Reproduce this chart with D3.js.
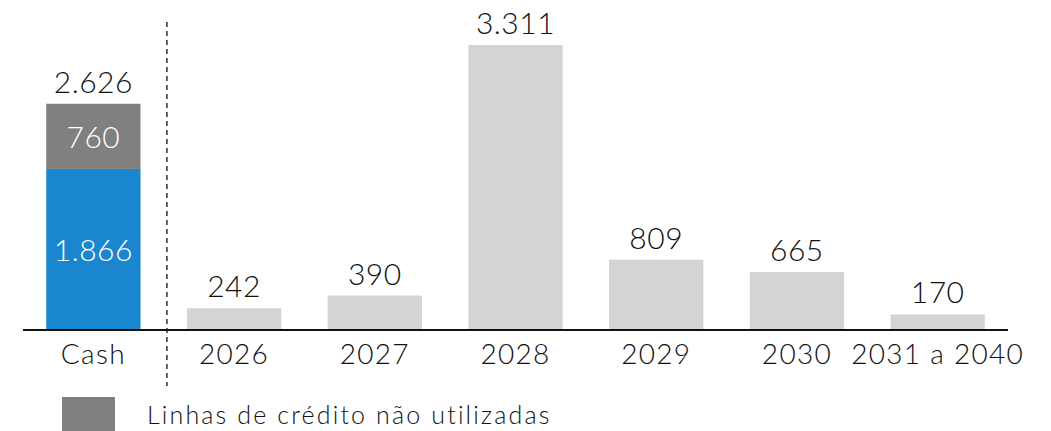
<!DOCTYPE html>
<html><head><meta charset="utf-8">
<script src="https://cdn.jsdelivr.net/npm/d3@7"></script>
<style>body{margin:0;background:#fff}svg{display:block}text{font-family:Lato,"Open Sans",sans-serif;font-weight:300}</style>
</head><body><svg width="1051" height="431"></svg>
<script>
const categories = ["Cash","2026","2027","2028","2029","2030","2031 a 2040"];
const cashValues = [1866, 760];          // caixa, linhas de crédito não utilizadas
const maturities = [0, 242, 390, 3311, 809, 665, 170];
const totals = [2626, 242, 390, 3311, 809, 665, 170];
const legendLabel = "Linhas de crédito não utilizadas";
const fmt = v => d3.format(",")(v).replace(/,/g, ".");

const svg = d3.select("svg");
const baseY = 329;
const x = d3.scaleBand().domain(categories).range([23, 1008]).paddingInner(0.33).paddingOuter(0.165);
const y = d3.scaleLinear().domain([0, 3311]).range([baseY, 45]);

// maturity bars
svg.selectAll("rect.mat").data(categories.slice(1)).enter().append("rect")
  .attr("x", d => x(d)).attr("width", x.bandwidth())
  .attr("y", (d,i) => y(maturities[i+1])).attr("height", (d,i) => baseY - y(maturities[i+1]))
  .attr("fill", "#d3d4d4");

// cash stacked
const c0 = cashValues[0], c1 = cashValues[1];
svg.append("rect").attr("x", x("Cash")).attr("width", x.bandwidth())
  .attr("y", y(c0)).attr("height", baseY - y(c0)).attr("fill", "#1a86d0");
svg.append("rect").attr("x", x("Cash")).attr("width", x.bandwidth())
  .attr("y", y(c0 + c1)).attr("height", y(c0) - y(c0 + c1)).attr("fill", "#808080");
svg.append("text").attr("x", x("Cash") + x.bandwidth()/2).attr("y", (y(c0) + baseY)/2 + 12)
  .attr("text-anchor","middle").attr("fill","#fff").attr("font-size",30).attr("letter-spacing",0.5).text(fmt(c0));
svg.append("text").attr("x", x("Cash") + x.bandwidth()/2).attr("y", (y(c0) + y(c0+c1))/2 + 12)
  .attr("text-anchor","middle").attr("fill","#fff").attr("font-size",30).attr("letter-spacing",0.5).text(fmt(c1));

// total labels
svg.selectAll("text.tot").data(categories).enter().append("text")
  .attr("x", d => x(d) + x.bandwidth()/2).attr("y", (d,i) => y(totals[i]) - 11)
  .attr("text-anchor","middle").attr("fill","#111").attr("font-size",30).attr("letter-spacing",0.5)
  .text((d,i) => fmt(totals[i]));

// axis
const axis = svg.append("g").attr("transform", `translate(0,${baseY + 1})`)
  .call(d3.axisBottom(x).tickSize(0).tickPadding(14));
axis.select(".domain").attr("stroke","#111").attr("stroke-width",2).attr("d", "M23,0H1008");
axis.selectAll("text").attr("font-size",28).attr("fill","#111").attr("font-family","Lato,sans-serif")
  .attr("font-weight",300).attr("letter-spacing",1.3);

// dashed divider
const dx = x(categories[1]) - 20;
svg.append("line").attr("x1", dx).attr("x2", dx).attr("y1", 22).attr("y2", 386)
  .attr("stroke","#111").attr("stroke-width",1.3).attr("stroke-dasharray","5,4");

// legend
svg.append("rect").attr("x", 62).attr("y", 397).attr("width", 53).attr("height", 34).attr("fill","#808080");
svg.append("text").attr("x", 147).attr("y", 424).attr("font-size",25).attr("letter-spacing",2.15).attr("fill","#111").text(legendLabel);
</script></body></html>
